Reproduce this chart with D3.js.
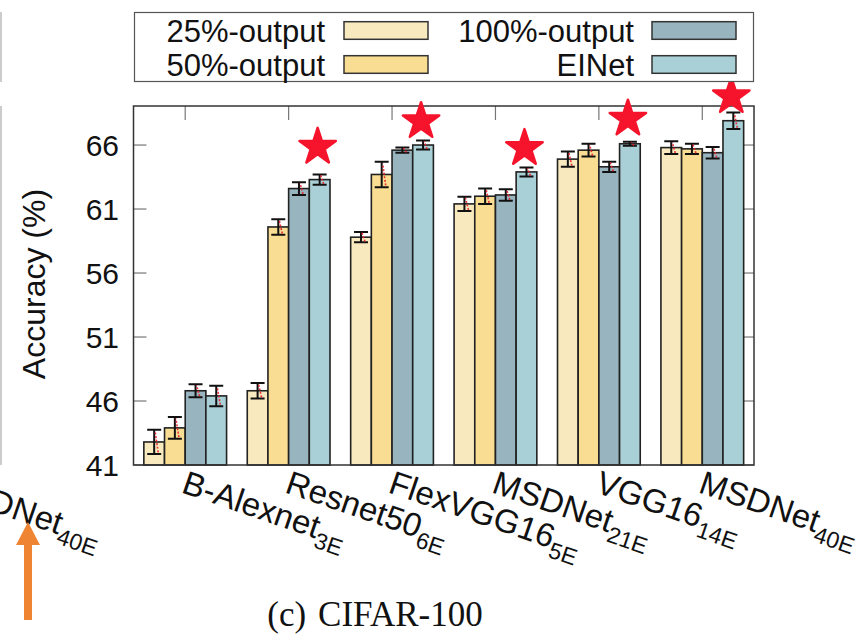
<!DOCTYPE html>
<html>
<head>
<meta charset="utf-8">
<script src="https://cdn.jsdelivr.net/npm/d3@7"></script>
<style>
  html, body { margin: 0; padding: 0; background: #fff; }
  text { font-family: "Liberation Sans", Arial, Helvetica, sans-serif; }
</style>
</head>
<body>
<div id="chart"></div>
<script>
// ---- data ----
const models = ['B-Alexnet', 'Resnet50', 'FlexVGG16', 'MSDNet', 'VGG16', 'MSDNet'];
const subs = ['3E', '6E', '5E', '21E', '14E', '40E'];
const seriesNames = ['25%-output', '50%-output', '100%-output', 'EINet'];
const out25 = [42.8, 46.8, 58.8, 61.4, 64.9, 65.8];
const out50 = [43.9, 59.6, 63.7, 62.0, 65.6, 65.7];
const out100 = [46.8, 62.6, 65.6, 62.1, 64.3, 65.4];
const einet = [46.4, 63.3, 66.0, 63.9, 66.1, 67.9];
const err25 = [0.95, 0.6, 0.4, 0.55, 0.6, 0.5];
const err50 = [0.85, 0.6, 1.0, 0.6, 0.5, 0.4];
const err100 = [0.5, 0.5, 0.2, 0.45, 0.4, 0.45];
const errEinet = [0.8, 0.4, 0.35, 0.35, 0.15, 0.65];
// star marks above EINet (null = no star)
const starAt = [null, 65.85, 67.85, 65.75, 68.05, 69.8];
const yTicks = [41, 46, 51, 56, 61, 66];

const colors = ['#f9e9bf', '#f8dd93', '#98b4bf', '#a9d0d6'];
const values = [out25, out50, out100, einet];
const errs = [err25, err50, err100, errEinet];

const width = 861, height = 639;
const margin = { top: 106, right: 107, bottom: 174, left: 133.5 };

const svg = d3.select('#chart').append('svg')
  .attr('width', width)
  .attr('height', height);

const idx = d3.range(models.length);

const x = d3.scaleBand()
  .domain(idx)
  .range([margin.left, width - margin.right])
  .padding(0);

const xs = d3.scaleBand()
  .domain(d3.range(seriesNames.length))
  .range([x.bandwidth() * 0.1, x.bandwidth() * 0.9])
  .padding(0);

const y = d3.scaleLinear()
  .domain([41, 69.05])
  .range([height - margin.bottom, margin.top]);

const plotW = width - margin.left - margin.right;
const plotH = height - margin.top - margin.bottom;

// neighbouring panel fragments on the left edge
svg.append('line').attr('x1', 1).attr('x2', 1).attr('y1', 12).attr('y2', 82)
  .attr('stroke', '#999').attr('stroke-width', 1);
svg.append('line').attr('x1', 1).attr('x2', 1).attr('y1', 106).attr('y2', 465)
  .attr('stroke', '#999').attr('stroke-width', 1);

// ticks (gnuplot style, inward)
const tickG = svg.append('g').attr('stroke', '#777').attr('stroke-width', 1.2);
yTicks.forEach(t => {
  tickG.append('line').attr('x1', margin.left).attr('x2', margin.left + 13)
    .attr('y1', y(t)).attr('y2', y(t));
  tickG.append('line').attr('x1', margin.left + plotW - 11).attr('x2', margin.left + plotW)
    .attr('y1', y(t)).attr('y2', y(t));
});
idx.forEach(i => {
  const cx = x(i) + x.bandwidth() / 2;
  tickG.append('line').attr('x1', cx).attr('x2', cx)
    .attr('y1', margin.top).attr('y2', margin.top + 14);
});

// y tick labels
svg.append('g').selectAll('text')
  .data(yTicks)
  .enter().append('text')
  .attr('x', 119)
  .attr('y', d => y(d))
  .attr('dy', '0.36em')
  .attr('text-anchor', 'end')
  .attr('font-size', 30)
  .attr('fill', '#111')
  .text(d => d);

// y title
svg.append('text')
  .attr('transform', 'translate(45,284) rotate(-90)')
  .attr('text-anchor', 'middle')
  .attr('font-size', 32)
  .attr('fill', '#111')
  .text('Accuracy (%)');

// bars
const groups = svg.append('g').selectAll('g')
  .data(idx)
  .enter().append('g')
  .attr('transform', i => `translate(${x(i)},0)`);

seriesNames.forEach((s, k) => {
  groups.append('rect')
    .attr('x', xs(k))
    .attr('y', i => y(values[k][i]))
    .attr('width', xs.bandwidth())
    .attr('height', i => y(41) - y(values[k][i]))
    .attr('fill', colors[k])
    .attr('stroke', '#222')
    .attr('stroke-width', 1.6);
});

// error bars + faint red sample marks
seriesNames.forEach((s, k) => {
  const cx = xs(k) + xs.bandwidth() / 2;
  const cap = 7;
  groups.append('path')
    .attr('d', i => {
      const lo = y(values[k][i] - errs[k][i]);
      const hi = y(values[k][i] + errs[k][i]);
      return `M${cx},${lo}V${hi}M${cx - cap},${lo}H${cx + cap}M${cx - cap},${hi}H${cx + cap}`;
    })
    .attr('fill', 'none')
    .attr('stroke', '#111')
    .attr('stroke-width', 2);
  groups.append('line')
    .attr('x1', cx + 4).attr('x2', cx + 1)
    .attr('y1', i => y(values[k][i] - errs[k][i] * 0.85))
    .attr('y2', i => y(values[k][i] + errs[k][i] * 0.85))
    .attr('stroke', '#e8202a')
    .attr('stroke-width', 1.6)
    .attr('stroke-dasharray', '2,1.6')
    .attr('opacity', 0.9);
});

// frame
svg.append('rect')
  .attr('x', margin.left).attr('y', margin.top)
  .attr('width', plotW).attr('height', plotH)
  .attr('fill', 'none')
  .attr('stroke', '#333')
  .attr('stroke-width', 1.5);

// stars
const star = d3.symbol().type(d3.symbolStar).size(410);
svg.append('g').selectAll('path')
  .data(idx.filter(i => starAt[i] !== null))
  .enter().append('path')
  .attr('d', star)
  .attr('transform', i => `translate(${x(i) + xs(3) + xs.bandwidth() / 2 - 2},${y(starAt[i])})`)
  .attr('fill', '#f5142c')
  .attr('stroke', '#f5142c')
  .attr('stroke-width', 2.5)
  .attr('stroke-linejoin', 'round');

// x labels (rotated, subscripted)
function addLabel(g, name, sub) {
  const t = g.append('text')
    .attr('font-size', 33)
    .attr('fill', '#111');
  t.append('tspan').text(name);
  t.append('tspan').attr('font-size', 23).attr('dy', 9).text(sub);
}
idx.forEach(i => {
  const cx = x(i) + x.bandwidth() / 2;
  const g = svg.append('g').attr('transform', `translate(${cx - 5},492) rotate(19)`);
  addLabel(g, models[i], subs[i]);
});
// tail of the previous panel's last label
{
  const cx = x(5) + x.bandwidth() / 2 - 757;
  const g = svg.append('g').attr('transform', `translate(${cx - 5},494) rotate(19)`);
  addLabel(g, models[5], subs[5]);
}

// orange arrow from the page
svg.append('path')
  .attr('d', 'M24,620V545H16L28,522L40,545H32V620Z')
  .attr('fill', '#ef8533');

// legend
const legend = svg.append('g');
legend.append('rect')
  .attr('x', 134.5).attr('y', 12.5).attr('width', 619).attr('height', 69)
  .attr('fill', '#fff').attr('stroke', '#555').attr('stroke-width', 1.2);
const legCols = [{ tx: 325, sx: 344 }, { tx: 634, sx: 652 }];
const legRows = [30.5, 64.5];
seriesNames.forEach((s, k) => {
  const c = legCols[Math.floor(k / 2)];
  const ry = legRows[k % 2];
  legend.append('text')
    .attr('x', c.tx).attr('y', ry).attr('dy', '0.36em')
    .attr('text-anchor', 'end')
    .attr('font-size', 31)
    .attr('fill', '#111')
    .text(s);
  legend.append('rect')
    .attr('x', c.sx).attr('y', ry - 8.8)
    .attr('width', 84).attr('height', 17.6)
    .attr('fill', colors[k])
    .attr('stroke', '#333').attr('stroke-width', 1.5);
});

// caption
const cap = svg.append('text')
  .attr('x', 375).attr('y', 626)
  .attr('text-anchor', 'middle')
  .attr('font-size', 35)
  .attr('fill', '#111')
  .style('font-family', '"Liberation Serif", "Times New Roman", serif');
cap.append('tspan').text('(c)');
cap.append('tspan').attr('dx', 12).text('CIFAR-100');
</script>
</body>
</html>
